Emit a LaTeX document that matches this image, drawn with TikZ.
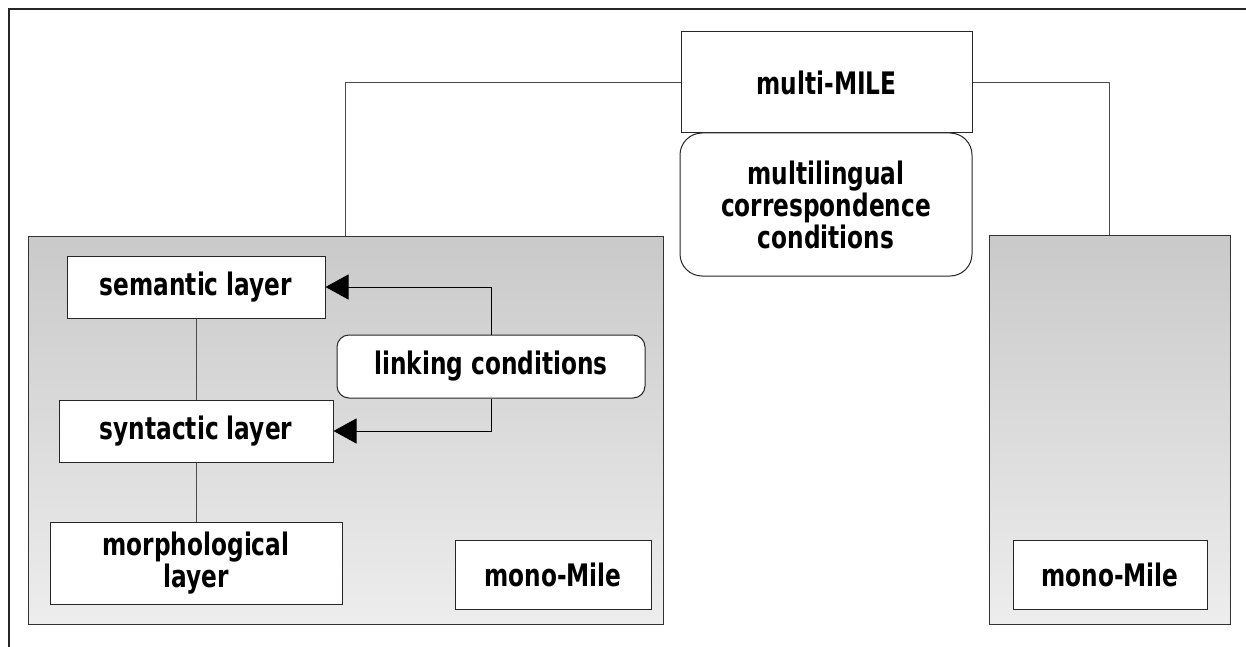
\documentclass[tikz,border=0pt]{standalone}
\usepackage{fontspec}
\newfontfamily\boxfont{DejaVu Sans}[FakeStretch=0.75]
\usetikzlibrary{arrows.meta}

\tikzset{
    layerbox/.style={draw=black!85, fill=white, line width=1pt, align=center,
        inner sep=0pt, font=\boxfont\bfseries\fontsize{31}{32}\selectfont},
    roundbox/.style={layerbox, rounded corners=12pt},
    panel/.style={draw=black!80, line width=1pt, top color=black!21,
        bottom color=black!7, inner sep=0pt},
    link/.style={draw=black!70, line width=1pt},
    arrowlink/.style={link, -{Triangle[length=23pt,width=25pt]}, draw=black}
}

\begin{document}
\begin{tikzpicture}[x=1pt, y=-1pt]
                \useasboundingbox (0,0) rectangle (1246,647);
                \draw[line width=2.5pt, black!85] (9,9) rectangle (1270,670);

                \node[panel, minimum width=635pt, minimum height=388pt] (LP) at (345.5,430) {};
                \node[panel, minimum width=241pt, minimum height=389pt] (RP) at (1109.5,429.5) {};

                \node[layerbox, minimum width=291pt, minimum height=101pt] (MM) at (826.5,82.5) {multi-MILE};
                \node[roundbox, rounded corners=22pt, minimum width=292pt, minimum height=143pt] (MC) at (826,204.5) {multilingual\\correspondence\\conditions};

                \node[layerbox, minimum width=258pt, minimum height=62pt] (SEM) at (196,287) {semantic layer};
                \node[layerbox, minimum width=274pt, minimum height=62pt] (SYN) at (196,431) {syntactic layer};
                \node[layerbox, minimum width=292pt, minimum height=82pt] (MOR) at (196,563) {morphological\\layer};
                \node[roundbox, minimum width=308pt, minimum height=63pt] (LC) at (491,366.5) {linking conditions};

                \node[layerbox, minimum width=196pt, minimum height=69pt] (ML) at (553,574.5) {mono-Mile};
                \node[layerbox, minimum width=194pt, minimum height=69pt] (MR) at (1110,574.5) {mono-Mile};

                \draw[link] (MM.west) -| (LP.north);
                \draw[link] (MM.east) -| (RP.north);
                \draw[link] (SEM.south) -- (SYN.north);
                \draw[link] (SYN.south) -- (MOR.north);
                \draw[arrowlink] (LC.north) |- (SEM.east);
                \draw[arrowlink] (LC.south) |- (SYN.east);
            \end{tikzpicture}
\end{document}
